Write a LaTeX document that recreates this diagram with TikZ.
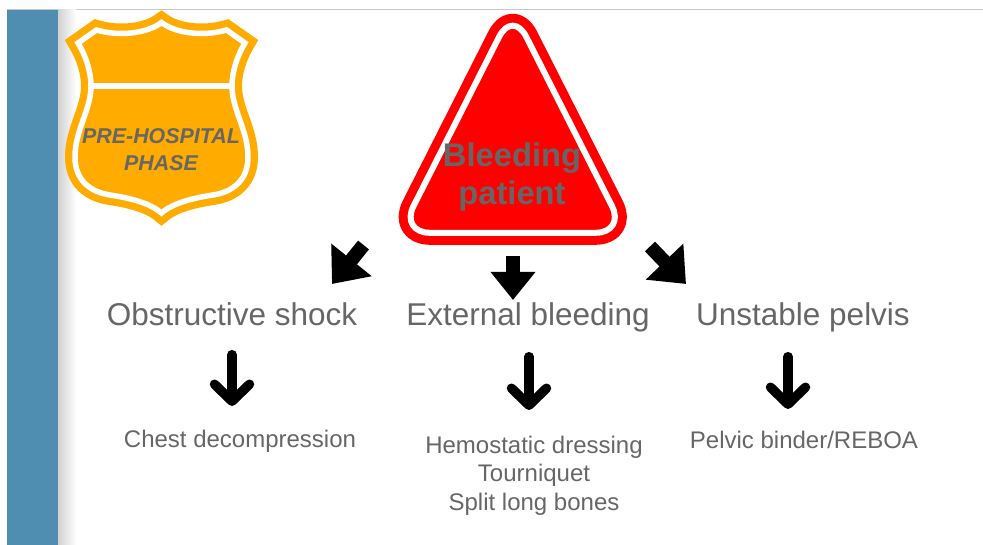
\documentclass[tikz,border=0pt]{standalone}
\usepackage{fontspec}
\setmainfont{Liberation Sans}
\usetikzlibrary{arrows.meta}
\definecolor{bandblue}{HTML}{4F8DB1}
\definecolor{shieldorange}{HTML}{FFAB00}
\definecolor{labelgray}{HTML}{666666}
\newcommand{\shieldpath}{(161.5,22.5) .. controls (148,33) and (120,37) .. (96.5,30) -- (78,43)
  .. controls (86,56) and (91,72) .. (91,86) .. controls (91,110) and (75,130) .. (75,157)
  .. controls (75,180) and (90,192) .. (110,195) .. controls (130,198) and (150,203) .. (161.5,213)
  .. controls (173,203) and (193,198) .. (213,195) .. controls (233,192) and (248,180) .. (248,157)
  .. controls (248,130) and (232,110) .. (232,86) .. controls (232,72) and (237,56) .. (245,43)
  -- (226.5,30) .. controls (203,37) and (175,33) .. (161.5,22.5) -- cycle}
\newcommand{\signpath}{[rounded corners=30pt] (512.7,10) -- (625.5,232.8) -- (400,232.8) -- cycle}
\tikzset{
  biglabel/.style={text=labelgray, inner sep=0pt, text height=24pt, text depth=7pt, font=\fontsize{31.5}{36}\selectfont},
  smalllabel/.style={text=labelgray, align=center, font=\fontsize{24}{28.5}\selectfont},
  blockarrow/.style={line width=14pt, -{Triangle[length=31pt,width=50pt]}},
  thinarrow/.style={line width=9.5pt, line cap=round, -{Straight Barb[round,length=17pt,width=35pt]}}
}
\begin{document}
\begin{tikzpicture}[x=1pt, y=-1pt]
  \useasboundingbox (0,0) rectangle (983,545);
  % Page edge, side band and its shadow
  \draw[black!22, line width=1.2pt] (7,9.5) -- (983,9.5);
  \shade[left color=black!18, right color=white] (58,10) rectangle (76,545);
  \fill[bandblue] (7,10) rectangle (58,545);
  % Shield
  \draw[shieldorange, line width=20pt, miter limit=10] \shieldpath;
  \draw[white, fill=shieldorange, line width=5.5pt, miter limit=10] \shieldpath;
  \draw[white, line width=6pt] (91,86) -- (232,86);
  \node[text=labelgray, align=center, font=\fontsize{21.4}{27}\selectfont\bfseries\itshape] (phase) at (161,150) {PRE-HOSPITAL\\PHASE};
  % Warning triangle
  \draw[red, line width=24pt, line join=round] \signpath;
  \draw[white, fill=red, line width=6pt, line join=round] \signpath;
  \node[text=labelgray, align=center, font=\fontsize{32.7}{38}\selectfont\bfseries] (bleeding) at (512,177) {Bleeding\\patient};
  % Three branches
  \node[biglabel] (shock) at (232,317) {Obstructive shock};
  \node[biglabel] (external) at (528,317) {External bleeding};
  \node[biglabel] (pelvis) at (803,317) {Unstable pelvis};
  \node[smalllabel] (chest) at (240,441) {Chest decompression};
  \node[smalllabel] (dressing) at (534,475.5) {Hemostatic dressing\\Tourniquet\\Split long bones};
  \node[smalllabel] (binder) at (804,439.5) {Pelvic binder/REBOA};
  % Block arrows from the triangle
  \coordinate (tailL) at (363.5,245);
  \coordinate (tipL) at (332,284);
  \coordinate (tailR) at (650,246.5);
  \coordinate (tipR) at (686,284);
  \coordinate (tipM) at (513,300);
  \draw[blockarrow] (tailL) -- (tipL);
  \draw[blockarrow] (tailR) -- (tipR);
  \draw[blockarrow, shorten <=41pt, -{Triangle[length=28pt,width=43pt]}] (bleeding.south -| tipM) -- (tipM);
  % Thin arrows to the treatments
  \coordinate (headA) at (232,406);
  \coordinate (headB) at (529,410);
  \coordinate (headC) at (788,409);
  \draw[thinarrow, shorten <=22pt] (shock.south -| headA) -- (headA);
  \draw[thinarrow, shorten <=24pt] (external.south -| headB) -- (headB);
  \draw[thinarrow, shorten <=24pt] (pelvis.south -| headC) -- (headC);
\end{tikzpicture}
\end{document}
